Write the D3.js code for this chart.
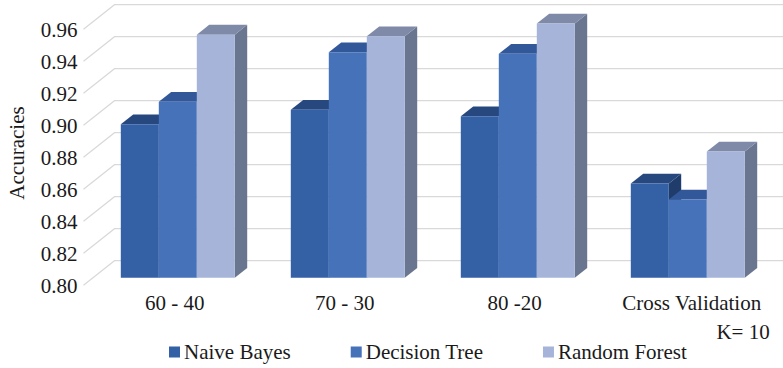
<!DOCTYPE html>
<html>
<head>
<meta charset="utf-8">
<script src="https://cdn.jsdelivr.net/npm/d3@7"></script>
<style>
  body { margin: 0; background: #fff; }
</style>
</head>
<body>
<div id="container"></div>
<script>
// data
const categories = ["60 - 40", "70 - 30", "80 -20", "Cross Validation|K= 10"];
const seriesNames = ["Naive Bayes", "Decision Tree", "Random Forest"];
const naiveBayes = [0.896, 0.905, 0.901, 0.859];
const decisionTree = [0.910, 0.941, 0.940, 0.849];
const randomForest = [0.952, 0.951, 0.959, 0.879];
const yTicks = [0.80, 0.82, 0.84, 0.86, 0.88, 0.90, 0.92, 0.94, 0.96];

const seriesValues = [naiveBayes, decisionTree, randomForest];
const colors = {
  "Naive Bayes": { front: "#3461A6", top: "#27487F", side: "#1F3C6A" },
  "Decision Tree": { front: "#4672BA", top: "#33589A", side: "#2B4C82" },
  "Random Forest": { front: "#A6B4D9", top: "#7F8AA9", side: "#6A7590" }
};

const width = 783, height = 368;
const serif = "'Liberation Serif', 'Times New Roman', Times, serif";
const backLeft = 114.5;
const depth = [-31, 24.5];   // back wall -> front edge
const zBack = 0.3, zFront = 0.7;  // bar depth span

const svg = d3.select("#container").append("svg")
  .attr("width", width)
  .attr("height", height)
  .attr("font-family", serif)
  .style("font-family", serif);

const x0 = d3.scaleBand()
  .domain(categories)
  .range([backLeft, backLeft + 680])
  .paddingInner(56 / 170)
  .paddingOuter(28 / 170);

const x1 = d3.scaleBand()
  .domain(seriesNames)
  .range([0, x0.bandwidth()]);

const y = d3.scaleLinear()
  .domain([0.80, 0.96])
  .range([260.7, 4.7]);

// oblique projection: z = 0 back wall, z = 1 front
const proj = (px, py, z) => [px + depth[0] * z, py + depth[1] * z];

// gridlines: back wall + left floor diagonal
svg.append("g").selectAll("path.grid")
  .data(yTicks)
  .join("path")
  .attr("class", "grid")
  .attr("fill", "none")
  .attr("stroke", "#D9D9D9")
  .attr("stroke-width", 1.2)
  .attr("d", t => d3.line()([
    proj(backLeft + 700, y(t), 0),
    proj(backLeft, y(t), 0),
    proj(backLeft, y(t), 1)
  ]));

// tick labels on the front edge
svg.append("g").selectAll("text.tick")
  .data(yTicks)
  .join("text")
  .attr("class", "tick")
  .attr("x", t => proj(backLeft, y(t), 1)[0] - 6)
  .attr("y", t => proj(backLeft, y(t), 1)[1])
  .attr("dy", "0.35em")
  .attr("text-anchor", "end")
  .attr("fill", "#1a1a1a")
  .style("font-family", serif)
  .style("font-size", "21px")
  .text(t => t.toFixed(2));

// axis title
svg.append("text")
  .attr("transform", "translate(24,153) rotate(-90)")
  .attr("text-anchor", "middle")
  .attr("fill", "#1a1a1a")
  .style("font-family", serif)
  .style("font-size", "21px")
  .text("Accuracies");

// bars, left to right so later bars cover earlier sides
const bars = [];
categories.forEach((c, ci) => {
  seriesNames.forEach((s, si) => {
    bars.push({ cat: c, series: s, value: seriesValues[si][ci] });
  });
});

const barG = svg.append("g").selectAll("g.bar")
  .data(bars)
  .join("g")
  .attr("class", "bar");

const poly = pts => "M" + pts.map(p => p.join(",")).join("L") + "Z";

barG.each(function (d) {
  const g = d3.select(this);
  const xl = x0(d.cat) + x1(d.series);
  const xr = xl + x1.bandwidth();
  const yb = y(0.80), yt = y(d.value);
  const c = colors[d.series];
  // side face
  g.append("path").attr("fill", c.side)
    .attr("d", poly([proj(xr, yb, zFront), proj(xr, yb, zBack), proj(xr, yt, zBack), proj(xr, yt, zFront)]));
  // top face
  g.append("path").attr("fill", c.top)
    .attr("d", poly([proj(xl, yt, zFront), proj(xl, yt, zBack), proj(xr, yt, zBack), proj(xr, yt, zFront)]));
  // front face
  g.append("path").attr("fill", c.front)
    .attr("d", poly([proj(xl, yb, zFront), proj(xl, yt, zFront), proj(xr, yt, zFront), proj(xr, yb, zFront)]));
});

// category labels
svg.append("g").selectAll("text.cat")
  .data(categories)
  .join("text")
  .attr("class", "cat")
  .attr("fill", "#1a1a1a")
  .style("font-family", serif)
  .style("font-size", "21px")
  .each(function (c) {
    const cx = proj(x0(c) + x0.bandwidth() / 2, y(0.80), 0.8)[0];
    const lines = c.split("|");
    const t = d3.select(this);
    if (lines.length === 1) {
      t.attr("x", cx).attr("y", 310).attr("text-anchor", "middle").text(c);
    } else {
      t.append("tspan").attr("x", cx + 7).attr("y", 310)
        .attr("text-anchor", "middle").text(lines[0]);
      t.append("tspan").attr("x", cx + 85).attr("y", 339)
        .attr("text-anchor", "end").text(lines[1]);
    }
  });

// legend
const legend = svg.append("g").attr("class", "legend");
let lx = 169;
seriesNames.forEach(s => {
  legend.append("rect")
    .attr("x", lx).attr("y", 346.5)
    .attr("width", 11).attr("height", 11)
    .attr("fill", colors[s].front);
  const txt = legend.append("text")
    .attr("x", lx + 15).attr("y", 359)
    .attr("fill", "#1a1a1a")
    .style("font-family", serif)
    .style("font-size", "21px")
    .text(s);
  lx += 15 + txt.node().getComputedTextLength() + 60;
});
</script>
</body>
</html>
